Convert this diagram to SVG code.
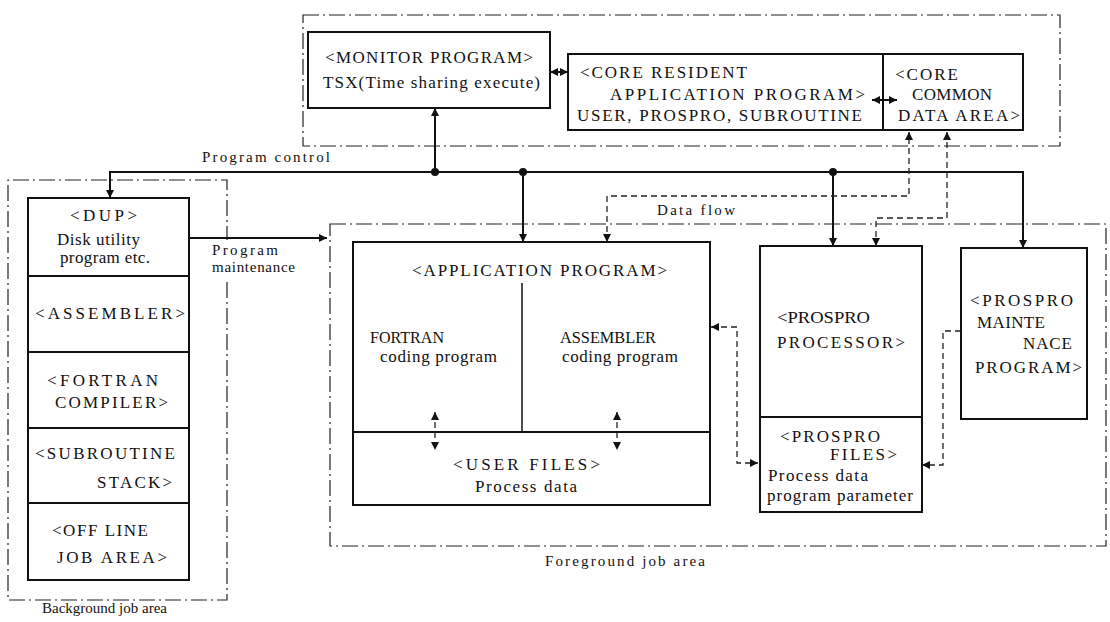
<svg xmlns="http://www.w3.org/2000/svg" width="1110" height="622" viewBox="0 0 1110 622">
<defs>
<marker id="ah" viewBox="0 0 10 10" refX="10" refY="5" markerWidth="9" markerHeight="8" markerUnits="userSpaceOnUse" orient="auto-start-reverse"><path d="M0,0 L10,5 L0,10 z" fill="#111"/></marker>
<style>
.t{font-family:"Liberation Serif","DejaVu Serif",serif;font-size:17px;fill:#111}
.s{font-size:15px}
.box{fill:none;stroke:#111;stroke-width:2}
.div{fill:none;stroke:#111;stroke-width:1.5}
.area{fill:none;stroke:#222;stroke-width:1.2;stroke-dasharray:16 4 2 4}
.bus{fill:none;stroke:#111;stroke-width:2}
.df{fill:none;stroke:#222;stroke-width:1.3;stroke-dasharray:6 4}
</style>
</defs>
<rect width="1110" height="622" fill="#fff"/>

<g id="core-area">
<rect class="area" x="303" y="15" width="757" height="131"/>
</g>
<g id="foreground-area">
<rect class="area" x="330" y="224" width="776" height="322"/>
<text class="t s" x="545" y="566" textLength="160" lengthAdjust="spacing">Foreground job area</text>
</g>
<g id="background-area">
<path class="area" d="M227,282 V600 H8 V180 H227 V240"/>
<text class="t s" x="42" y="613" textLength="125" lengthAdjust="spacing">Background job area</text>
</g>

<g id="monitor">
<rect class="box" x="308" y="32" width="242" height="76"/>
<text class="t" x="325" y="63" textLength="208" lengthAdjust="spacing">&lt;MONITOR PROGRAM&gt;</text>
<text class="t" x="323" y="88" textLength="217" lengthAdjust="spacing">TSX(Time sharing execute)</text>
</g>

<g id="core-resident">
<rect class="box" x="568" y="54" width="315" height="76"/>
<text class="t" x="580" y="78" textLength="167" lengthAdjust="spacing">&lt;CORE RESIDENT</text>
<text class="t" x="610" y="100" textLength="255" lengthAdjust="spacing">APPLICATION PROGRAM&gt;</text>
<text class="t" x="577" y="121" textLength="285" lengthAdjust="spacing">USER, PROSPRO, SUBROUTINE</text>
</g>

<g id="core-common">
<rect class="box" x="883" y="54" width="140" height="76"/>
<text class="t" x="895" y="80" textLength="63" lengthAdjust="spacing">&lt;CORE</text>
<text class="t" x="912" y="100" textLength="80" lengthAdjust="spacing">COMMON</text>
<text class="t" x="898" y="121" textLength="122" lengthAdjust="spacing">DATA AREA&gt;</text>
</g>

<g id="dup">
<rect class="box" x="28" y="198" width="161" height="78"/>
<text class="t" x="70" y="221" textLength="67" lengthAdjust="spacing">&lt;DUP&gt;</text>
<text class="t" x="57" y="245" textLength="83" lengthAdjust="spacing">Disk utility</text>
<text class="t" x="60" y="263" textLength="90" lengthAdjust="spacing">program etc.</text>
</g>
<g id="assembler">
<rect class="box" x="28" y="276" width="161" height="76"/>
<text class="t" x="35" y="319" textLength="150" lengthAdjust="spacing">&lt;ASSEMBLER&gt;</text>
</g>
<g id="fortran-compiler">
<rect class="box" x="28" y="352" width="161" height="76"/>
<text class="t" x="47" y="386" textLength="111" lengthAdjust="spacing">&lt;FORTRAN</text>
<text class="t" x="55" y="408" textLength="113" lengthAdjust="spacing">COMPILER&gt;</text>
</g>
<g id="subroutine-stack">
<rect class="box" x="28" y="428" width="161" height="75"/>
<text class="t" x="35" y="459" textLength="140" lengthAdjust="spacing">&lt;SUBROUTINE</text>
<text class="t" x="97" y="488" textLength="75" lengthAdjust="spacing">STACK&gt;</text>
</g>
<g id="offline-job">
<rect class="box" x="28" y="503" width="161" height="77"/>
<text class="t" x="52" y="536" textLength="96" lengthAdjust="spacing">&lt;OFF LINE</text>
<text class="t" x="57" y="563" textLength="110" lengthAdjust="spacing">JOB AREA&gt;</text>
</g>

<g id="application-program">
<rect class="box" x="353" y="242" width="357" height="190"/>
<line class="div" x1="522" y1="283" x2="522" y2="432"/>
<text class="t" x="412" y="276" textLength="255" lengthAdjust="spacing">&lt;APPLICATION PROGRAM&gt;</text>
<text class="t" x="370" y="343" textLength="74" lengthAdjust="spacingAndGlyphs">FORTRAN</text>
<text class="t" x="380" y="362" textLength="117" lengthAdjust="spacing">coding program</text>
<text class="t" x="560" y="343" textLength="96" lengthAdjust="spacingAndGlyphs">ASSEMBLER</text>
<text class="t" x="562" y="362" textLength="116" lengthAdjust="spacing">coding program</text>
</g>
<g id="user-files">
<rect class="box" x="353" y="432" width="357" height="73"/>
<text class="t" x="453" y="470" textLength="147" lengthAdjust="spacing">&lt;USER FILES&gt;</text>
<text class="t" x="475" y="492" textLength="102" lengthAdjust="spacing">Process data</text>
</g>

<g id="prospro-processor">
<rect class="box" x="760" y="246" width="162" height="171"/>
<text class="t" x="777" y="323" textLength="93" lengthAdjust="spacingAndGlyphs">&lt;PROSPRO</text>
<text class="t" x="777" y="348" textLength="128" lengthAdjust="spacing">PROCESSOR&gt;</text>
</g>
<g id="prospro-files">
<rect class="box" x="760" y="417" width="162" height="95"/>
<text class="t" x="780" y="442" textLength="100" lengthAdjust="spacing">&lt;PROSPRO</text>
<text class="t" x="830" y="460" textLength="67" lengthAdjust="spacing">FILES&gt;</text>
<text class="t" x="768" y="481" textLength="100" lengthAdjust="spacing">Process data</text>
<text class="t" x="767" y="501" textLength="146" lengthAdjust="spacing">program parameter</text>
</g>

<g id="prospro-maintenance">
<rect class="box" x="961" y="248" width="126" height="171"/>
<text class="t" x="970" y="306" textLength="103" lengthAdjust="spacing">&lt;PROSPRO</text>
<text class="t" x="977" y="328" textLength="68" lengthAdjust="spacing">MAINTE</text>
<text class="t" x="1023" y="349" textLength="49" lengthAdjust="spacing">NACE</text>
<text class="t" x="975" y="373" textLength="107" lengthAdjust="spacing">PROGRAM&gt;</text>
</g>

<g id="connectors">
<path class="bus" d="M1023,248 V172 H110 V198" marker-start="url(#ah)" marker-end="url(#ah)"/>
<path class="bus" d="M435,172 V108" marker-end="url(#ah)"/>
<path class="bus" d="M523,172 V242" marker-end="url(#ah)"/>
<path class="bus" d="M833,172 V246" marker-end="url(#ah)"/>
<circle cx="435" cy="172" r="4" fill="#111"/>
<circle cx="523" cy="172" r="4" fill="#111"/>
<circle cx="833" cy="172" r="4" fill="#111"/>
<text class="t s" x="202" y="162" textLength="128" lengthAdjust="spacing">Program control</text>
<path class="bus" d="M189,238 H327" stroke-width="1.5" marker-end="url(#ah)"/>
<text class="t s" x="212" y="255" textLength="66" lengthAdjust="spacing">Program</text>
<text class="t s" x="212" y="272" textLength="83" lengthAdjust="spacing">maintenance</text>
<path class="bus" d="M550,72 H568" stroke-width="1.5" marker-start="url(#ah)" marker-end="url(#ah)"/>
<path class="bus" d="M872,100 H897" stroke-width="1.5" marker-start="url(#ah)" marker-end="url(#ah)"/>
<path class="df" d="M607,242 V196 H909 V132" marker-start="url(#ah)" marker-end="url(#ah)"/>
<text class="t s" x="657" y="215" textLength="78" lengthAdjust="spacing">Data flow</text>
<path class="df" d="M947,132 V218 H876 V246" marker-start="url(#ah)" marker-end="url(#ah)"/>
<path class="df" d="M711,327 H737 V463 H758" marker-start="url(#ah)" marker-end="url(#ah)"/>
<path class="df" d="M961,331 H943 V465 H922" marker-end="url(#ah)"/>
<path class="df" d="M435,412 V450" marker-start="url(#ah)" marker-end="url(#ah)"/>
<path class="df" d="M617,412 V450" marker-start="url(#ah)" marker-end="url(#ah)"/>
</g>
</svg>
